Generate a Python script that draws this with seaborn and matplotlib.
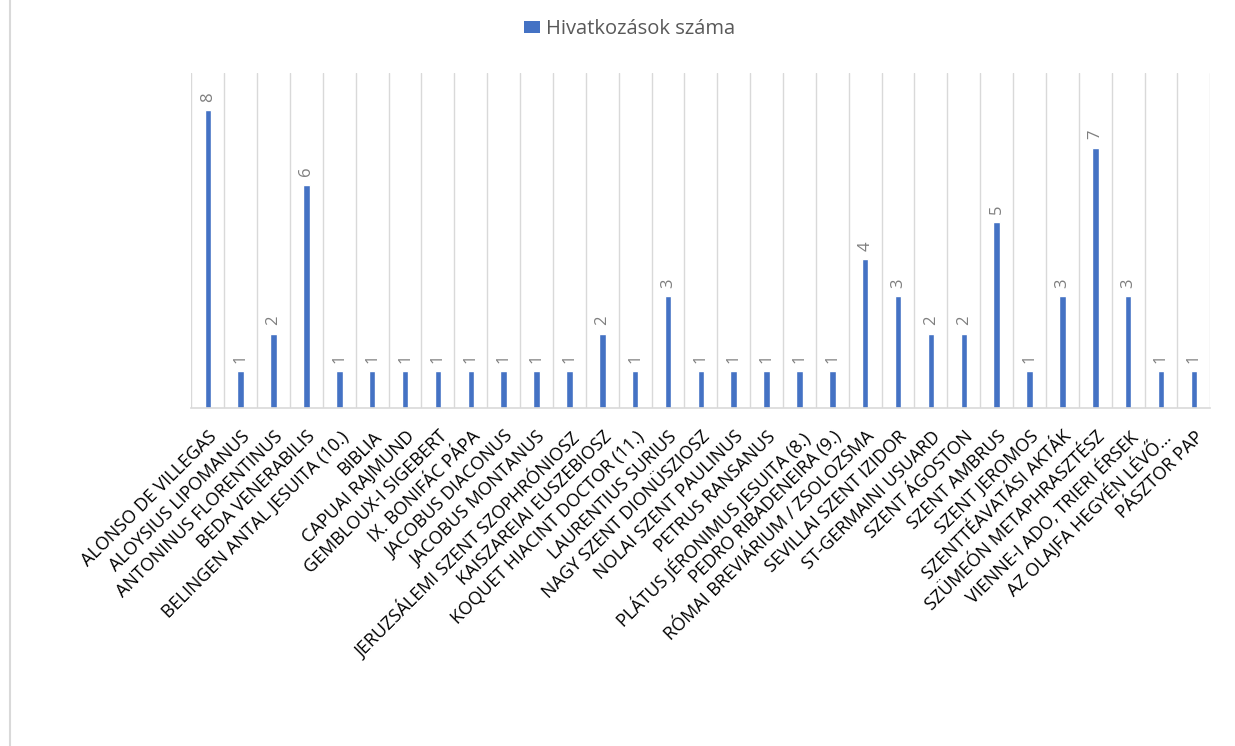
import matplotlib
matplotlib.use("Agg")
import matplotlib.pyplot as plt
from matplotlib.patches import Patch
import numpy as np
import pandas as pd
import seaborn as sns

names = [
    "ALONSO DE VILLEGAS", "ALOYSIUS LIPOMANUS", "ANTONINUS FLORENTINUS",
    "BEDA VENERABILIS", "BELINGEN ANTAL JESUITA (10.)", "BIBLIA",
    "CAPUAI RAJMUND", "GEMBLOUX-I SIGEBERT", "IX. BONIFÁC PÁPA",
    "JACOBUS DIACONUS", "JACOBUS MONTANUS", "JERUZSÁLEMI SZENT SZOPHRÓNIOSZ",
    "KAISZAREIAI EUSZEBIOSZ", "KOQUET HIACINT DOCTOR (11.)", "LAURENTIUS SURIUS",
    "NAGY SZENT DIONÜSZIOSZ", "NOLAI SZENT PAULINUS", "PETRUS RANSANUS",
    "PLÁTUS JÉRONIMUS JESUITA (8.)", "PEDRO RIBADENEIRA (9.)",
    "RÓMAI BREVIÁRIUM / ZSOLOZSMA", "SEVILLAI SZENT IZIDOR", "ST-GERMAINI USUARD",
    "SZENT ÁGOSTON", "SZENT AMBRUS", "SZENT JEROMOS", "SZENTTÉAVATÁSI AKTÁK",
    "SZÜMEÓN METAPHRASZTÉSZ", "VIENNE-I ADO, TRIERI ÉRSEK",
    "AZ OLAJFA HEGYÉN LÉVŐ…", "PÁSZTOR PAP",
]
counts = [8, 1, 2, 6, 1, 1, 1, 1, 1, 1, 1, 1, 2, 1, 3, 1, 1, 1, 1, 1,
          4, 3, 2, 2, 5, 1, 3, 7, 3, 1, 1]
series_name = "Hivatkozások száma"
bar_color = "#4472C4"

df = pd.DataFrame({"name": names, "count": counts})

sns.set_style("white")
plt.rcParams["font.family"] = ["Open Sans", "DejaVu Sans"]

fig = plt.figure(figsize=(12.35, 7.46), dpi=100)
ax = fig.add_axes([0.155, 0.453, 0.825, 0.449])

sns.barplot(data=df, x="name", y="count", color=bar_color, width=0.2,
            saturation=1, ax=ax)

ax.set_ylim(0, 9)
ax.set_xlim(-0.5, len(names) - 0.5)
ax.set_yticks([])
ax.set_xlabel("")
ax.set_ylabel("")

# vertical gridlines between categories
ax.set_xticks(np.arange(-0.5, len(names), 1), minor=True)
ax.grid(True, which="minor", axis="x", color="#d9d9d9", linewidth=1)
ax.tick_params(axis="x", which="both", length=0, pad=14)

for s in ["top", "right", "left"]:
    ax.spines[s].set_visible(False)
ax.spines["bottom"].set_color("#d9d9d9")
ax.spines["bottom"].set_linewidth(1.2)

ax.set_xticks(range(len(names)))
ax.set_xticklabels(names, rotation=45, ha="right", rotation_mode="anchor",
                   fontsize=13, color="#000000")

ax.bar_label(ax.containers[0], rotation=90, padding=6, fontsize=12,
             color="#7f7f7f")

handle = Patch(facecolor=bar_color, edgecolor="none")
ax.legend([handle], [series_name], loc="upper center", bbox_to_anchor=(0.43, 1.215),
          frameon=False, fontsize=14.5, handlelength=0.75, handleheight=0.55,
          handletextpad=0.3, labelcolor="#595959")

fig.patches.append(plt.Rectangle((0.008, -0.01), 1.2, 1.2, transform=fig.transFigure,
                                 fill=False, edgecolor="#d9d9d9", linewidth=1.5))

fig.savefig("out.png", dpi=100)
